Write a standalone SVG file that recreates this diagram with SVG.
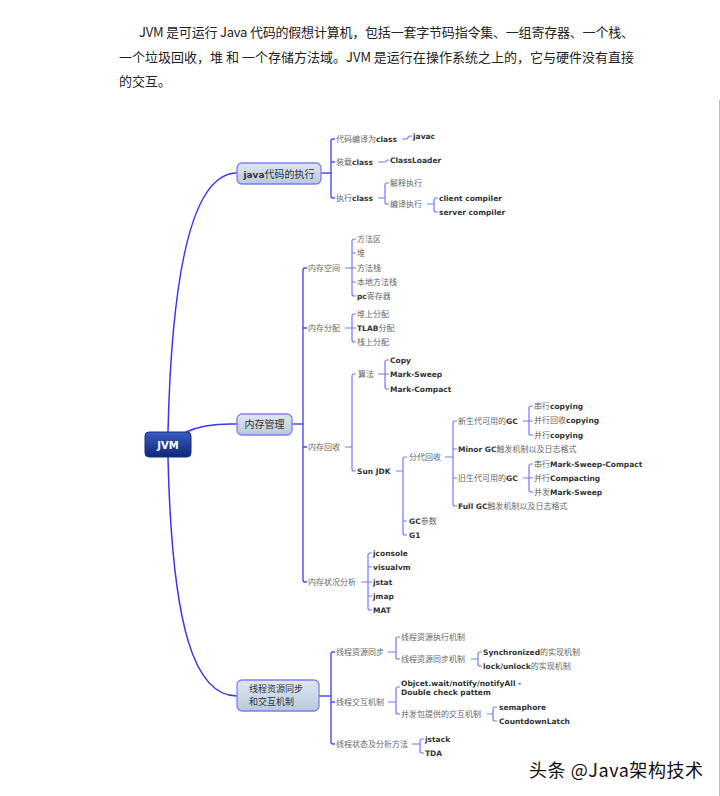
<svg xmlns="http://www.w3.org/2000/svg" width="720" height="796" viewBox="0 0 720 796">
<style>
.intro{font-family:"Noto Sans CJK SC","Liberation Sans",sans-serif;font-size:13px;fill:#222}
.zh{font-family:"Noto Sans CJK SC",sans-serif;font-size:8px;fill:#666}
.b{font-family:"DejaVu Sans",Verdana,sans-serif;font-weight:bold;font-size:7.5px;fill:#333}
.tn{font-family:"Noto Sans CJK SC","DejaVu Sans",sans-serif;font-size:10px;fill:#333}
.tn2{font-family:"Noto Sans CJK SC",sans-serif;font-size:9px;fill:#333}
.main{fill:url(#gMain);stroke:#7d7df2;stroke-width:1.3}
.curve{fill:none;stroke:#3636f2;stroke-width:1.5}
.trunk{fill:none;stroke:#4a4af5;stroke-width:1.4}
.br{fill:none;stroke:#7676f6;stroke-width:1.2}
.wm{font-family:"Noto Sans CJK SC",sans-serif;font-size:18px;fill:#111;stroke:#fff;stroke-width:2.5;paint-order:stroke}
</style>
<defs>
<linearGradient id="gMain" x1="0" y1="0" x2="0" y2="1"><stop offset="0" stop-color="#dfe7f1"/><stop offset="1" stop-color="#b8c9dc"/></linearGradient>
<linearGradient id="gRoot" x1="0" y1="0" x2="0" y2="1"><stop offset="0" stop-color="#3a5cc0"/><stop offset="1" stop-color="#0e2678"/></linearGradient>
</defs>
<rect width="720" height="796" fill="#fff"/>
<line x1="719.5" y1="100" x2="719.5" y2="796" stroke="#bbb" stroke-width="1"/>

<g id="intro">
<text class="intro" x="139" y="37" textLength="495" lengthAdjust="spacing">JVM 是可运行 Java 代码的假想计算机，包括一套字节码指令集、一组寄存器、一个栈、</text>
<text class="intro" x="119" y="62" textLength="515" lengthAdjust="spacing">一个垃圾回收，堆 和 一个存储方法域。JVM 是运行在操作系统之上的，它与硬件没有直接</text>
<text class="intro" x="119" y="86">的交互。</text>
</g>

<g id="connectors">
<path class="curve" d="M168,432 C172,260 195,173 237,173"/>
<path class="curve" d="M186,432 Q205,423 237,424"/>
<path class="curve" d="M168,457 C172,630 195,696 237,696"/>
<path class="trunk" d="M321,173 H331 M335,139 H333 Q331,139 331,141 V196 Q331,198 333,198 H335 M331,162 h4"/>
<path class="br" d="M402,139 H406 Q408,139 408,137.5 Q408,136 410,136 H412"/>
<path class="br" d="M378,162 H384 Q386,162 386,161 Q386,160 388,160 H389"/>
<path class="br" d="M378,198 H385 M389,183 H387 Q385,183 385,185 V202 Q385,204 387,204 H389"/>
<path class="br" d="M427,204 H434 M438,198 H436 Q434,198 434,200 V210 Q434,212 436,212 H438"/>
<path class="trunk" d="M292,424 H303 M307,268 H305 Q303,268 303,270 V580 Q303,582 305,582 H307 M303,328 h4 M303,447 h4"/>
<path class="br" d="M345,268 H352 M356,239 H354 Q352,239 352,241 V294 Q352,296 354,296 H356 M352,253 h4 M352,268 h4 M352,282 h4"/>
<path class="br" d="M345,328 H356 M356,314 H354 Q352,314 352,316 V340 Q352,342 354,342 H356"/>
<path class="br" d="M345,447 H352 M356,374 H354 Q352,374 352,376 V469 Q352,471 354,471 H356"/>
<path class="br" d="M378,374 H389 M389,360 H387 Q385,360 385,362 V387 Q385,389 387,389 H389"/>
<path class="br" d="M396,471 H403 M407,457 H405 Q403,457 403,459 V533 Q403,535 405,535 H407 M403,521 h4"/>
<path class="br" d="M445,457 H453 M457,421 H455 Q453,421 453,423 V504 Q453,506 455,506 H457 M453,449 h4 M453,478 h4"/>
<path class="br" d="M523,421 H533 M533,406 H531 Q529,406 529,408 V433 Q529,435 531,435 H533"/>
<path class="br" d="M523,478 H533 M533,464 H531 Q529,464 529,466 V490 Q529,492 531,492 H533"/>
<path class="br" d="M361,582 H372 M372,553 H370 Q368,553 368,555 V608 Q368,610 370,610 H372 M368,567 h4 M368,596 h4"/>
<path class="trunk" d="M319,696 H331 M335,652 H333 Q331,652 331,654 V742 Q331,744 333,744 H335 M331,702 h4"/>
<path class="br" d="M388,652 H396 M400,637 H398 Q396,637 396,639 V657 Q396,659 398,659 H400"/>
<path class="br" d="M471,659 H478 M482,652 H480 Q478,652 478,654 V664 Q478,666 480,666 H482"/>
<path class="br" d="M388,702 H396 M400,687 H398 Q396,687 396,689 V712 Q396,714 398,714 H400"/>
<path class="br" d="M487,714 H493 M497,707 H495 Q493,707 493,709 V719 Q493,721 495,721 H497"/>
<path class="br" d="M412,744 H420 M424,739 H422 Q420,739 420,741 V751 Q420,753 422,753 H424"/>
</g>

<g id="jvm">
<rect x="145" y="432" width="46" height="25" rx="4" fill="url(#gRoot)" stroke="#1b2f8c"/>
<text x="168" y="448.5" text-anchor="middle" font-family="DejaVu Sans,Verdana,sans-serif" font-weight="bold" font-size="10" fill="#fff">JVM</text>
</g>

<g id="java-exec">
<rect class="main" x="237" y="163" width="84" height="21" rx="5"/>
<text class="tn" x="279" y="177.5" text-anchor="middle"><tspan font-family="DejaVu Sans,sans-serif" font-weight="bold" font-size="9">java</tspan>代码的执行</text>
<g id="java-children">
<text class="zh" x="336" y="142">代码编译为<tspan class="b">class</tspan></text>
<text class="b" x="413" y="139">javac</text>
<text class="zh" x="336" y="165">装载<tspan class="b">class</tspan></text>
<text class="b" x="390" y="163">ClassLoader</text>
<text class="zh" x="336" y="201">执行<tspan class="b">class</tspan></text>
<text class="zh" x="390" y="186">解释执行</text>
<text class="zh" x="390" y="207">编译执行</text>
<text class="b" x="439" y="201">client compiler</text>
<text class="b" x="439" y="215">server compiler</text>
</g>
</g>

<g id="memory">
<rect class="main" x="237" y="414" width="55" height="21" rx="5"/>
<text class="tn" x="264.5" y="428" text-anchor="middle">内存管理</text>
<g id="mem-space">
<text class="zh" x="308" y="271">内存空间</text>
<text class="zh" x="357" y="242">方法区</text>
<text class="zh" x="357" y="256">堆</text>
<text class="zh" x="357" y="271">方法栈</text>
<text class="zh" x="357" y="285">本地方法栈</text>
<text class="zh" x="357" y="299"><tspan class="b">pc</tspan>寄存器</text>
</g>
<g id="mem-alloc">
<text class="zh" x="308" y="331">内存分配</text>
<text class="zh" x="357" y="317">堆上分配</text>
<text class="zh" x="357" y="331"><tspan class="b">TLAB</tspan>分配</text>
<text class="zh" x="357" y="345">栈上分配</text>
</g>
<g id="mem-gc">
<text class="zh" x="308" y="450">内存回收</text>
<text class="zh" x="358" y="377">算法</text>
<text class="b" x="390" y="363">Copy</text>
<text class="b" x="390" y="377">Mark-Sweep</text>
<text class="b" x="390" y="392">Mark-Compact</text>
<text class="b" x="357" y="474">Sun JDK</text>
<text class="zh" x="409" y="460">分代回收</text>
<text class="zh" x="409" y="524"><tspan class="b">GC</tspan>参数</text>
<text class="b" x="409" y="538">G1</text>
<text class="zh" x="458" y="424">新生代可用的<tspan class="b">GC</tspan></text>
<text class="zh" x="458" y="452"><tspan class="b">Minor GC</tspan>触发机制以及日志格式</text>
<text class="zh" x="458" y="481">旧生代可用的<tspan class="b">GC</tspan></text>
<text class="zh" x="458" y="509"><tspan class="b">Full GC</tspan>触发机制以及日志格式</text>
<text class="zh" x="534" y="409">串行<tspan class="b">copying</tspan></text>
<text class="zh" x="534" y="423">并行回收<tspan class="b">copying</tspan></text>
<text class="zh" x="534" y="438">并行<tspan class="b">copying</tspan></text>
<text class="zh" x="534" y="467">串行<tspan class="b">Mark-Sweep-Compact</tspan></text>
<text class="zh" x="534" y="481">并行<tspan class="b">Compacting</tspan></text>
<text class="zh" x="534" y="495">并发<tspan class="b">Mark-Sweep</tspan></text>
</g>
<g id="mem-analysis">
<text class="zh" x="308" y="585">内存状况分析</text>
<text class="b" x="373" y="556">jconsole</text>
<text class="b" x="373" y="570">visualvm</text>
<text class="b" x="373" y="585">jstat</text>
<text class="b" x="373" y="599">jmap</text>
<text class="b" x="373" y="613">MAT</text>
</g>
</g>

<g id="thread">
<rect class="main" x="237" y="680" width="82" height="31" rx="5"/>
<text class="tn2" x="249" y="692">线程资源同步</text>
<text class="tn2" x="249" y="705">和交互机制</text>
<g id="thread-sync">
<text class="zh" x="336" y="655">线程资源同步</text>
<text class="zh" x="401" y="640">线程资源执行机制</text>
<text class="zh" x="401" y="662">线程资源同步机制</text>
<text class="zh" x="483" y="655"><tspan class="b">Synchronized</tspan>的实现机制</text>
<text class="zh" x="483" y="669"><tspan class="b">lock/unlock</tspan>的实现机制</text>
</g>
<g id="thread-interact">
<text class="zh" x="336" y="705">线程交互机制</text>
<text class="b" x="401" y="686">Objcet.wait/notify/notifyAll -</text>
<text class="b" x="401" y="695">Double check pattem</text>
<text class="zh" x="401" y="717">并发包提供的交互机制</text>
<text class="b" x="499" y="710">semaphore</text>
<text class="b" x="499" y="724">CountdownLatch</text>
</g>
<g id="thread-state">
<text class="zh" x="336" y="747">线程状态及分析方法</text>
<text class="b" x="425" y="742">jstack</text>
<text class="b" x="425" y="756">TDA</text>
</g>
</g>

<text class="wm" x="529" y="777" textLength="174" lengthAdjust="spacing">头条 @Java架构技术</text>
</svg>
